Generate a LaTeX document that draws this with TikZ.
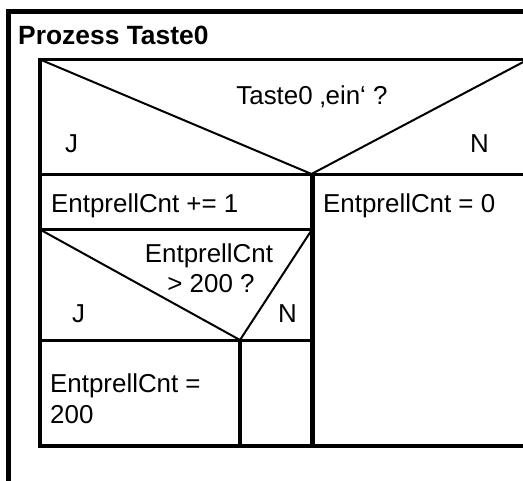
\documentclass[tikz,border=0pt]{standalone}
\usepackage{fontspec}
\setmainfont{Liberation Sans}
\begin{document}
\begin{tikzpicture}[x=1pt,y=-1pt,
  outerframe/.style={line width=5pt, line join=miter},
  rule/.style={line width=3.5pt, line join=miter, line cap=rect},
  splitrule/.style={line width=5pt},
  diag/.style={line width=2pt, line join=miter},
  txt/.style={inner sep=0pt, anchor=base west, font=\fontsize{25.9}{31}\selectfont},
  ctxt/.style={inner sep=0pt, anchor=base, font=\fontsize{25.9}{31}\selectfont},
  title/.style={inner sep=0pt, anchor=base west, font=\fontsize{26.4}{31}\selectfont\bfseries}]
\useasboundingbox (0,0) rectangle (523,481);
\clip (0,0) rectangle (523,481);
\fill[white] (0,0) rectangle (523,481);

% corner points of the structogram
\coordinate (tl) at (40,59.5);
\coordinate (tr) at (528,59.5);
\coordinate (apexA) at (311.5,174);
\coordinate (rowAl) at (40,174.5);
\coordinate (rowAr) at (528,174.5);
\coordinate (splitA) at (312,174.5);
\coordinate (rowBl) at (40,229.5);
\coordinate (rowBr) at (312,229.5);
\coordinate (apexB) at (240,340);
\coordinate (rowCl) at (40,340.5);
\coordinate (rowCr) at (312,340.5);
\coordinate (splitB) at (240,340.5);
\coordinate (bl) at (40,446);
\coordinate (br) at (528,446);
\coordinate (botA) at (312,446);
\coordinate (botB) at (240,446);

% process frame
\draw[outerframe] (8,490) -- (8,11.5) -- (530,11.5);
\node[title] (ttl) at (18,45) {Prozess Taste0};

% outer box
\draw[rule] (tr) -- (tl) -- (bl) -- (br);
\draw[rule] (rowAl) -- (rowAr);
\draw[splitrule] (splitA) -- (botA);

% first decision
\draw[diag] (tl) -- (apexA) -- (tr);
\node[ctxt] (condA) at (312,105) {Taste0 ‚ein‘ ?};
\node[txt] (yesA) at (65,153) {J};
\node[txt] (noA) at (470,153) {N};

% yes branch
\node[txt] (incr) at (51,213) {EntprellCnt += 1};
\draw[rule] (rowBl) -- (rowBr);

% second decision
\draw[diag] (rowBl) -- (apexB) -- (rowBr);
\node[ctxt] (condB1) at (209,263) {EntprellCnt};
\node[ctxt] (condB2) at (211,293) {> 200 ?};
\node[txt] (yesB) at (72,323) {J};
\node[txt] (noB) at (278,323) {N};
\draw[rule] (rowCl) -- (rowCr);
\draw[rule] (splitB) -- (botB);
\node[txt] (clamp) at (50,393) {\begin{tabular}[t]{@{}l@{}}EntprellCnt =\\200\end{tabular}};

% no branch
\node[txt] (reset) at (323,213) {EntprellCnt = 0};
\end{tikzpicture}
\end{document}
